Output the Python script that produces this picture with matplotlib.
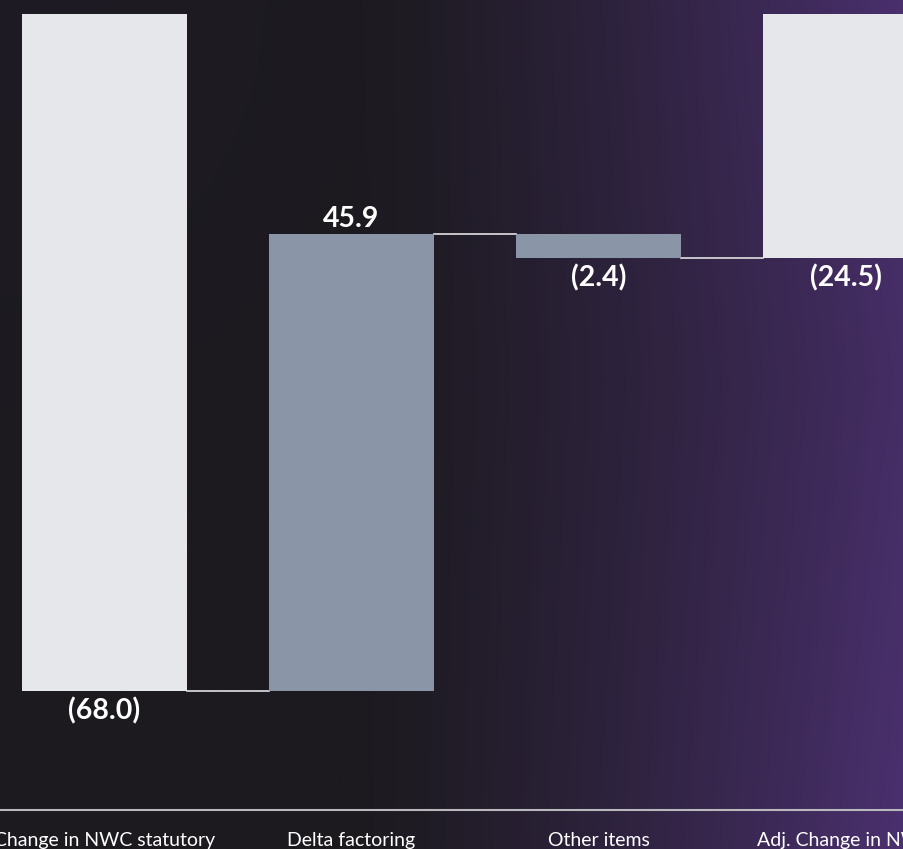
import numpy as np
import matplotlib
matplotlib.use("Agg")
from matplotlib import pyplot as plt

categories = ["Change in NWC statutory", "Delta factoring", "Other items", "Adj. Change in NWC"]
values = [-68.0, 45.9, -2.4, -24.5]
is_total = [True, False, False, True]
labels = ["(68.0)", "45.9", "(2.4)", "(24.5)"]

plt.rcParams['font.family'] = ['Lato', 'DejaVu Sans']

W, H = 904, 849
fig = plt.figure(figsize=(W / 100, H / 100), dpi=100)

# background gradient (dark on the left, purple towards the right)
bg = fig.add_axes([0, 0, 1, 1], zorder=0)
bg.set_axis_off()
gx = np.linspace(0, 1, 300)
gy = np.linspace(0, 1, 300)
X, Y = np.meshgrid(gx, gy)  # Y=0 top
t = np.clip((X - 0.38) / 0.62, 0, 1) ** 1.3
t = t * (0.88 + 0.12 * np.abs(Y - 0.45) * 2)
dark = np.array([0x1c, 0x1a, 0x1f]) / 255
purple = np.array([0x4a, 0x30, 0x6e]) / 255
img = dark[None, None, :] * (1 - t[..., None]) + purple[None, None, :] * t[..., None]
# slight purple tint in the top-left corner
tl = np.clip(1 - np.hypot(X / 0.5, Y / 0.6), 0, 1) * 0.4
tint = np.array([0x22, 0x1c, 0x2c]) / 255
img = img * (1 - tl[..., None]) + tint[None, None, :] * tl[..., None]
bg.imshow(img, extent=[0, 1, 0, 1], origin="upper", aspect="auto")
bg.set_xlim(0, 1)
bg.set_ylim(0, 1)

# main axes: bar spacing 247 px, axis line at y=810 px
step = 247
left_px = 104.5 - step / 2
ax = fig.add_axes([left_px / W, (H - 810) / H, 4 * step / W, 810 / H], zorder=1)
ax.patch.set_alpha(0)

x = np.arange(len(categories))
bottoms = []
heights = []
running = 0.0
for v, tot in zip(values, is_total):
    if tot:
        bottoms.append(0.0)
        heights.append(v)
        running = v
    else:
        bottoms.append(running)
        heights.append(v)
        running = running + v
colors = ["#e6e7eb" if tot else "#8a96a8" for tot in is_total]
width = 165 / step
ax.bar(x, heights, bottom=bottoms, width=width, color=colors, zorder=2)

# connectors
levels = [b + h for b, h in zip(bottoms, heights)]
for i in range(len(x) - 1):
    ax.plot([x[i] + width / 2, x[i + 1] - width / 2], [levels[i], levels[i]],
            color="#d2d2d6", lw=1.3, zorder=1)

# value labels
for i, (b, h, lab) in enumerate(zip(bottoms, heights, labels)):
    if h >= 0:
        ax.annotate(lab, (x[i], b + h), xytext=(0, 1.5), textcoords="offset points",
                    ha="center", va="bottom", color="white", fontsize=20.5, fontweight="bold")
    else:
        ax.annotate(lab, (x[i], b + h), xytext=(0, -5), textcoords="offset points",
                    ha="center", va="top", color="white", fontsize=20.5, fontweight="bold")

ax.set_xlim(-0.5, 3.5)
ax.set_ylim(-80, 1.4)
ax.set_xticks(x)
ax.set_xticklabels(categories, color="white", fontsize=14)
ax.tick_params(axis="x", length=0, pad=15.5)
ax.set_yticks([])
for s in ["top", "left", "right"]:
    ax.spines[s].set_visible(False)
ax.spines["bottom"].set_color("#b9b9bd")
ax.spines["bottom"].set_linewidth(1.5)

fig.savefig("out.png", dpi=100)
